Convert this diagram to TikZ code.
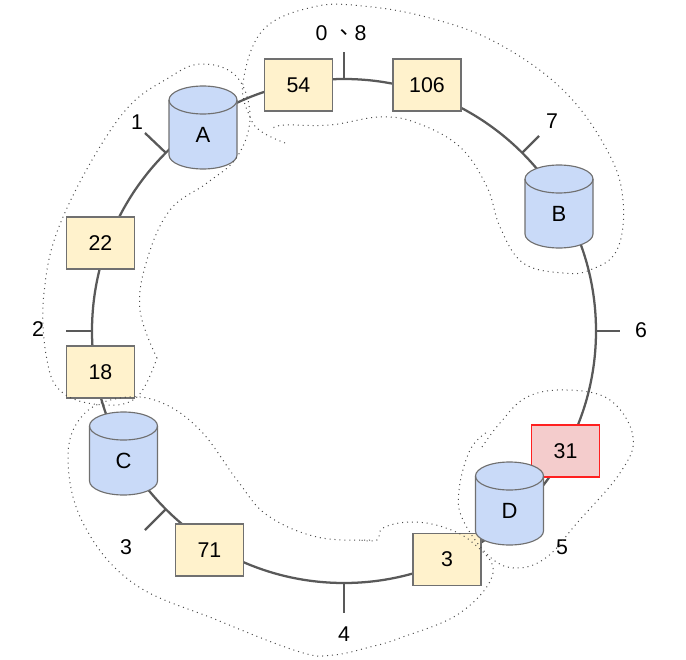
\documentclass[tikz,border=0pt]{standalone}
\usepackage{fontspec}
\setmainfont{Liberation Sans}
\newfontfamily\cjkfont{Noto Sans CJK TC}
\definecolor{ringc}{HTML}{595959}
\definecolor{edgec}{HTML}{707070}
\definecolor{boxy}{HTML}{FFF2CC}
\definecolor{boxr}{HTML}{F4CCCC}
\definecolor{hotedge}{HTML}{FF2020}
\definecolor{dbfill}{HTML}{C9DAF8}
\tikzset{
  ringline/.style={draw=ringc,line width=1.7pt},
  keybox/.style={rectangle,draw=edgec,fill=boxy,line width=.85pt,minimum width=51pt,minimum height=39pt,inner sep=0pt,font=\fontsize{16}{18}\selectfont},
  hotbox/.style={keybox,draw=hotedge,fill=boxr},
  dbbody/.style={draw=edgec,fill=dbfill,line width=.85pt},
  dblabel/.style={inner sep=0pt,font=\fontsize{16.5}{18}\selectfont},
  numlabel/.style={inner sep=0pt,font=\fontsize{16}{18}\selectfont},
  blob/.style={draw=black!70,line width=.75pt,dash pattern=on .75pt off 2.95pt,smooth,tension=.65},
}
% centre x, top y, node name, label
\newcommand{\dbnode}[4]{%
  \path[dbbody] (#1-34,#2+14) -- (#1-34,#2+69) arc[start angle=180,end angle=0,x radius=34,y radius=14]
    -- (#1+34,#2+14) arc[start angle=0,end angle=-180,x radius=34,y radius=14] -- cycle;
  \path[draw=edgec,line width=.85pt] (#1-34,#2+14) arc[start angle=180,end angle=0,x radius=34,y radius=14];
  \node[dblabel] (#3) at (#1,#2+49) {#4};
}
\begin{document}
\begin{tikzpicture}[x=.75pt,y=-.75pt]
\useasboundingbox (0,0) rectangle (686,660);
% ring
\node[circle,ringline,minimum size=378pt,inner sep=0pt,outer sep=0pt] (ring) at (344,331) {};
% tick ends
\coordinate (t0) at (344,52);
\coordinate (t7) at (539,136);
\coordinate (t6) at (620,331);
\coordinate (t4) at (344,613);
\coordinate (t3) at (145,530);
\coordinate (t2) at (66,331);
\coordinate (t1) at (145,133);
\draw[ringline] (ring.90) -- (t0);
\draw[ringline] (ring.45) -- (t7);
\draw[ringline] (ring.0) -- (t6);
\draw[ringline] (ring.-90) -- (t4);
\draw[ringline] (ring.225) -- (t3);
\draw[ringline] (ring.180) -- (t2);
\draw[ringline] (ring.135) -- (t1);
% key boxes
\node[keybox] (k54) at (298.5,85) {54};
\node[keybox] (k106) at (427,85) {106};
\node[keybox] (k22) at (100.5,243) {22};
\node[keybox] (k18) at (100.5,372) {18};
\node[keybox] (k71) at (209.5,550) {71};
\node[keybox] (k3) at (447,559.5) {3};
\node[hotbox] (k31) at (565.5,451) {31};
% databases
\dbnode{203}{86}{dbA}{A}
\dbnode{559}{165}{dbB}{B}
\dbnode{123.5}{412}{dbC}{C}
\dbnode{509.5}{462}{dbD}{D}
% labels
\node[numlabel] (l0) at (341,33) {0 {\cjkfont 、}8};
\node[numlabel] (l7) at (552,121) {7};
\node[numlabel] (l6) at (641,330) {6};
\node[numlabel] (l5) at (562,547) {5};
\node[numlabel] (l4) at (344,634) {4};
\node[numlabel] (l3) at (126,547) {3};
\node[numlabel] (l2) at (38,329) {2};
\node[numlabel] (l1) at (137,122) {1};
% dotted groups
\draw[blob] plot coordinates {(285,143) (262,132) (250,117) (243,83) (263,30) (313,7) (363,6) (430,18) (497,43) (563,90) (607,150) (623,200) (617,250) (590,270) (563,273) (523,263) (500,227) (487,187) (460,147) (417,123) (380,117) (330,125) (285,125) (273,128)};
\draw[blob] plot coordinates {(157,358) (140,310) (147,260) (170,210) (207,183) (237,157) (250,117) (237,77) (203,64) (170,77) (120,117) (63,217) (44,293) (47,360) (63,393) (103,405) (137,397) (157,358)};
\draw[blob] plot coordinates {(370,540) (317,537) (267,515) (237,480) (200,430) (160,402) (120,398) (83,415) (68,457) (83,523) (133,583) (217,620) (300,652) (333,655) (370,647) (400,638) (460,613) (493,573) (473,543) (443,527) (410,522) (383,528) (377,540) (360,540)};
\draw[blob] plot coordinates {(482,447) (500,423) (527,397) (567,390) (610,400) (633,437) (620,473) (577,523) (547,557) (517,568) (490,557) (463,520) (459,490) (470,450) (487,432)};
\end{tikzpicture}
\end{document}
